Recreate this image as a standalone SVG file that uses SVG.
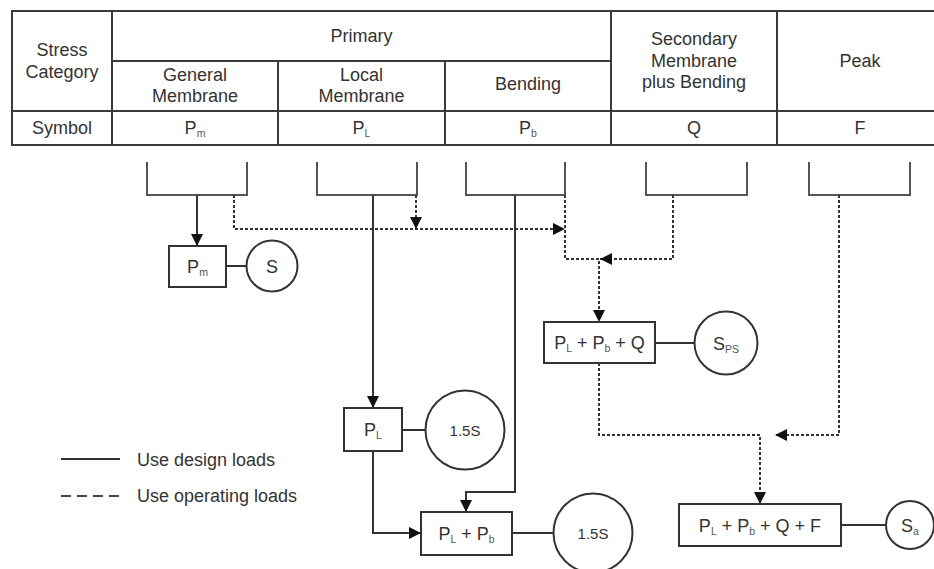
<svg xmlns="http://www.w3.org/2000/svg" width="934" height="569" viewBox="0 0 934 569">
<style>
text{font-family:"Liberation Sans",Arial,sans-serif;font-size:18px;fill:#333;text-anchor:middle}
.sub{font-size:10.5px;fill:#555}
.small{font-size:15px}
.tl{fill:none;stroke:#3a3a3a;stroke-width:2}
.br{fill:none;stroke:#555;stroke-width:2}
.box{fill:#fff;stroke:#333;stroke-width:2}
.solid{fill:none;stroke:#333;stroke-width:2}
.dash{fill:none;stroke:#333;stroke-width:2;stroke-dasharray:3 2}
.leg{text-anchor:start}
</style>
<defs>
<marker id="ah" markerUnits="userSpaceOnUse" markerWidth="12" markerHeight="12" viewBox="0 0 10 10" refX="10" refY="5" orient="auto">
<path d="M0,0 L10,5 L0,10 Z" fill="#111"/>
</marker>
</defs>
<g id="table">
<rect class="tl" x="12" y="11" width="940" height="134"/>
<path class="tl" d="M112,61 H611 M12,111 H952 M112,11 V145 M278,61 V145 M445,61 V145 M611,11 V145 M777,11 V145"/>
<text x="62" y="56">Stress</text>
<text x="62" y="78">Category</text>
<text x="361.5" y="41.5">Primary</text>
<text x="195" y="81">General</text>
<text x="195" y="101.5">Membrane</text>
<text x="361.5" y="81">Local</text>
<text x="361.5" y="101.5">Membrane</text>
<text x="528" y="90">Bending</text>
<text x="694" y="45">Secondary</text>
<text x="694" y="66.5">Membrane</text>
<text x="694" y="87.5">plus Bending</text>
<text x="860" y="66.5">Peak</text>
<text x="62" y="134">Symbol</text>
<text x="195" y="134">P<tspan class="sub" dy="3">m</tspan></text>
<text x="361.5" y="134">P<tspan class="sub" dy="3">L</tspan></text>
<text x="528" y="134">P<tspan class="sub" dy="3">b</tspan></text>
<text x="694" y="134">Q</text>
<text x="860" y="134">F</text>
</g>
<g id="brackets">
<path class="br" d="M147,162 V195 H247 V162"/>
<path class="br" d="M317,162 V195 H417 V162"/>
<path class="br" d="M466,162 V195 H565 V162"/>
<path class="br" d="M646,162 V195 H747 V162"/>
<path class="br" d="M809,162 V195 H910 V162"/>
</g>
<g id="connectors">
<path class="solid" d="M197,195 V246" marker-end="url(#ah)"/>
<path class="dash" d="M234,195 V229 H565" marker-end="url(#ah)"/>
<path class="dash" d="M416,195 V229" marker-end="url(#ah)"/>
<path class="dash" d="M565,195 V259 H599 V322" marker-end="url(#ah)"/>
<path class="dash" d="M673,195 V259 H600" marker-end="url(#ah)"/>
<path class="solid" d="M373,195 V408" marker-end="url(#ah)"/>
<path class="solid" d="M515,195 V492 H466 V512" marker-end="url(#ah)"/>
<path class="solid" d="M373,452 V533 H421" marker-end="url(#ah)"/>
<path class="dash" d="M599,363 V435 H760 V504" marker-end="url(#ah)"/>
<path class="dash" d="M839,195 V435 H775" marker-end="url(#ah)"/>
<path class="solid" d="M226,266 H246.5"/>
<path class="solid" d="M402,430 H425.5"/>
<path class="solid" d="M512,533 H553.5"/>
<path class="solid" d="M655,343 H694.5"/>
<path class="solid" d="M841,525 H886"/>
</g>
<g id="node-pm">
<rect class="box" x="169" y="246" width="57" height="41"/>
<text x="197.5" y="272.5">P<tspan class="sub" dy="3">m</tspan></text>
</g>
<g id="node-s">
<circle class="box" cx="272" cy="266" r="25.5"/>
<text x="272" y="272.5">S</text>
</g>
<g id="node-pl">
<rect class="box" x="344" y="408" width="58" height="43"/>
<text x="373" y="436">P<tspan class="sub" dy="3">L</tspan></text>
</g>
<g id="node-15s-a">
<circle class="box" cx="465" cy="430" r="39.5"/>
<text class="small" x="465" y="435.5">1.5S</text>
</g>
<g id="node-plpb">
<rect class="box" x="421" y="512" width="91" height="43"/>
<text x="466.5" y="540">P<tspan class="sub" dy="3">L</tspan><tspan dy="-3"> + P</tspan><tspan class="sub" dy="3">b</tspan></text>
</g>
<g id="node-15s-b">
<circle class="box" cx="593" cy="533" r="39.5"/>
<text class="small" x="593" y="538.5">1.5S</text>
</g>
<g id="node-plpbq">
<rect class="box" x="544" y="322" width="111" height="41"/>
<text x="599.5" y="349">P<tspan class="sub" dy="3">L</tspan><tspan dy="-3"> + P</tspan><tspan class="sub" dy="3">b</tspan><tspan dy="-3"> + Q</tspan></text>
</g>
<g id="node-sps">
<circle class="box" cx="726" cy="343" r="31.5"/>
<text x="726" y="349.5">S<tspan class="sub" dy="3">PS</tspan></text>
</g>
<g id="node-plpbqf">
<rect class="box" x="679" y="504" width="162" height="42"/>
<text x="760" y="531.5">P<tspan class="sub" dy="3">L</tspan><tspan dy="-3"> + P</tspan><tspan class="sub" dy="3">b</tspan><tspan dy="-3"> + Q + F</tspan></text>
</g>
<g id="node-sa">
<circle class="box" cx="910" cy="525" r="24"/>
<text x="910" y="531.5">S<tspan class="sub" dy="3">a</tspan></text>
</g>
<g id="legend">
<path class="solid" d="M61,459 H120"/>
<path fill="none" stroke="#444" stroke-width="2" stroke-dasharray="10 6" d="M61,496 H120"/>
<text class="leg" x="137" y="465.5">Use design loads</text>
<text class="leg" x="137" y="502">Use operating loads</text>
</g>
</svg>
